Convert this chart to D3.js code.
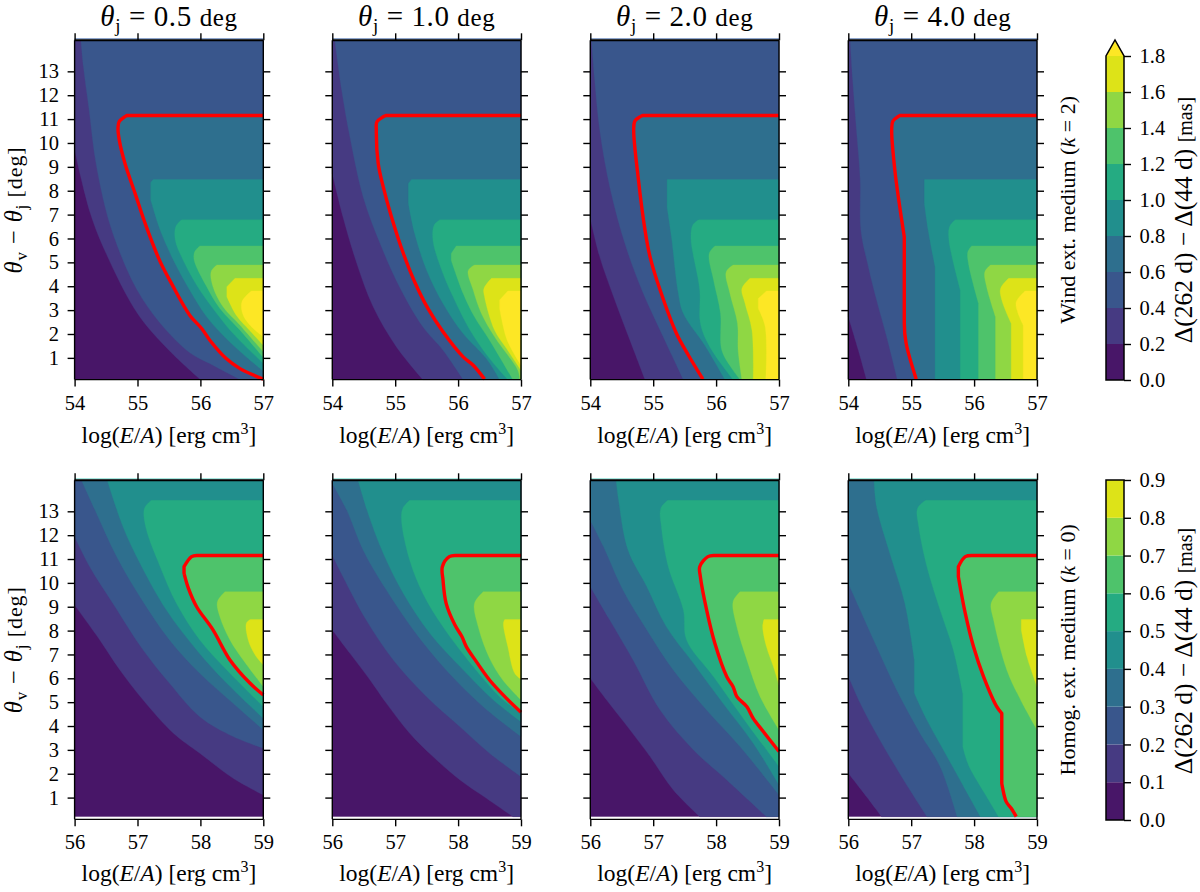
<!DOCTYPE html>
<meta charset="utf-8">
<style>
  body { margin: 0; background: #fff; }
  text { font-family: "Liberation Serif", serif; fill: #000; }
  .domain { display: none; }
  .tick line { stroke: #000; stroke-width: 1.4; }
  .tick text { font-size: 20.5px; }
</style>

<!-- Load d3.js -->
<script src="https://d3js.org/d3.v7.min.js"></script>

<div id="my_dataviz"></div>

<script>

// band limits of the two colour bars
var windLevels = [0, 0.2, 0.4, 0.6, 0.8, 1.0, 1.2, 1.4, 1.6, 1.8]
var homogLevels = [0, 0.1, 0.2, 0.3, 0.4, 0.5, 0.6, 0.7, 0.8, 0.9]
var bandColors = ["#481668", "#463a82", "#39568c", "#2e6f8e", "#218f8d", "#25ab82", "#4ec36b", "#8fd744", "#dde318"]
var overColor = "#fde725"

var thetaJ = ["0.5", "1.0", "2.0", "4.0"]
var windTicks = [54, 55, 56, 57]
var homogTicks = [56, 57, 58, 59]
var thetaTicks = [1, 2, 3, 4, 5, 6, 7, 8, 9, 10, 11, 12, 13]

// contour lines, [log(E/A), theta], one list per level (0.2, 0.4 ... 1.8)
var wind05 = [
  [[54,9.71],[54.25,7.06],[54.5,5.38],[55,2.86],[55.5,1.32],[56,0.09]],
  [[54.1,14.3],[54.14,13.2],[54.23,11.4],[54.35,9],[54.61,6.2],[55.09,3.42],[55.78,1.32],[56.2,0.69],[56.63,0.09]],
  [[57,11.15],[54.83,11.15],[54.71,10.9],[54.69,10.62],[54.71,10.13],[54.8,9.15],[54.96,7.9],[55.14,6.5],[55.36,5.03],[55.54,4.12],[55.83,2.79],[56.02,2.23],[56.15,1.74],[56.41,0.97],[56.63,0.55],[57,0.11]],
  [[57,8.47],[55.25,8.47],[55.21,8.34],[55.21,7.62],[55.36,6.36],[55.57,5.1],[55.83,3.84],[56.1,2.72],[56.41,1.81],[56.73,1.04],[57,0.45]],
  [[57,6.78],[55.7,6.78],[55.61,6.5],[55.6,5.94],[55.75,4.96],[55.99,3.84],[56.26,2.86],[56.52,2.02],[57,0.76]],
  [[57,5.69],[55.99,5.69],[55.91,5.45],[55.9,5.1],[56.1,3.98],[56.31,3.07],[56.63,2.16],[57,1.01]],
  [[57,4.89],[56.26,4.89],[56.17,4.61],[56.2,3.98],[56.36,3.14],[56.63,2.37],[57,1.25]],
  [[57,4.33],[56.55,4.33],[56.42,3.98],[56.42,3.56],[56.57,2.79],[56.78,2.16],[57,1.53]],
  [[57,3.8],[56.81,3.8],[56.66,3.35],[56.68,2.79],[56.84,2.23],[57,1.88]]
]
var wind10 = [
  [[54,8.72],[54.17,6.9],[54.39,4.95],[54.65,3.14],[55.02,1.46],[55.44,0.09]],
  [[54.04,14.3],[54.15,12.2],[54.28,10.26],[54.49,7.75],[54.76,5.79],[55.07,3.97],[55.44,2.3],[55.76,1.32],[56.08,0.09]],
  [[57,11.15],[54.85,11.15],[54.71,10.89],[54.7,10.54],[54.73,9.14],[54.81,8.16],[54.94,6.91],[55.13,5.37],[55.31,4.18],[55.52,3.07],[55.76,2.09],[56.08,1.04],[56.24,0.69],[56.42,0.11]],
  [[57,8.47],[55.26,8.47],[55.21,8.3],[55.21,7.47],[55.31,6.21],[55.5,4.67],[55.76,3.28],[56.08,2.02],[56.45,0.97],[56.66,0.09]],
  [[57,6.78],[55.71,6.78],[55.62,6.56],[55.6,5.93],[55.76,4.53],[55.97,3.28],[56.19,2.16],[56.5,0.97],[56.79,0.09]],
  [[57,5.69],[55.97,5.69],[55.89,5.37],[55.89,5.09],[56.08,3.7],[56.26,2.72],[56.5,1.74],[56.87,0.09]],
  [[57,4.89],[56.26,4.89],[56.16,4.65],[56.24,3.84],[56.37,2.86],[56.58,1.88],[56.95,0.48],[56.98,0.09]],
  [[57,4.33],[56.53,4.33],[56.41,3.9],[56.42,3.56],[56.58,2.16],[56.77,1.39],[57,0.48]],
  [[57,3.8],[56.79,3.8],[56.66,3.42],[56.66,3.07],[56.78,1.74],[57,0.69]]
]
var wind20 = [
  [[54,6.84],[54.15,5.23],[54.37,3.56],[54.63,1.74],[54.87,0.09]],
  [[54.02,14.3],[54.07,12.63],[54.15,10.54],[54.31,8.16],[54.55,5.79],[54.82,3.84],[55.11,2.16],[55.48,0.09]],
  [[57,11.15],[54.83,11.15],[54.71,10.93],[54.69,10.54],[54.76,8.58],[54.87,6.35],[54.95,5.23],[55.11,3.84],[55.37,2.02],[55.56,1.11],[55.79,0.11]],
  [[57,8.47],[55.22,8.47],[55.22,7.33],[55.29,6.07],[55.4,3.7],[55.48,2.86],[55.82,1.53],[56.14,0.09]],
  [[57,6.78],[55.72,6.78],[55.63,6.56],[55.6,6],[55.74,3.84],[55.75,2.44],[55.9,1.46],[56.27,0.09]],
  [[57,5.69],[55.98,5.69],[55.89,5.37],[55.96,4.25],[56.07,2.86],[56.09,1.32],[56.27,0.48],[56.38,0.09]],
  [[57,4.89],[56.27,4.89],[56.16,4.6],[56.22,3.7],[56.34,2.44],[56.35,1.32],[56.41,0.09]],
  [[57,4.33],[56.54,4.33],[56.41,3.9],[56.46,3.28],[56.57,2.16],[56.59,0.09]],
  [[57,3.8],[56.8,3.8],[56.67,3.49],[56.67,3.07],[56.78,2.3],[56.79,0.09]]
]
var wind40 = [
  [[54,2.72],[54.16,1.32],[54.29,0.09]],
  [[54.03,14.3],[54.07,12.63],[54.13,10.54],[54.19,8.44],[54.2,6.35],[54.32,4.81],[54.45,3.42],[54.61,1.88],[54.78,0.09]],
  [[57,11.15],[54.82,11.15],[54.71,10.92],[54.69,10.54],[54.74,8.86],[54.81,7.47],[54.89,6.07],[54.89,2.44],[54.92,1.6],[55.08,0.11]],
  [[57,8.47],[55.21,8.47],[55.21,7.47],[55.27,6.35],[55.38,4.81],[55.38,0.09]],
  [[57,6.78],[55.7,6.78],[55.61,6.49],[55.6,5.93],[55.78,3.84],[55.78,0.09]],
  [[57,5.69],[55.96,5.69],[55.9,5.44],[55.91,4.95],[56.07,3.28],[56.07,0.09]],
  [[57,4.89],[56.26,4.89],[56.17,4.6],[56.2,3.97],[56.34,2.72],[56.34,0.09]],
  [[57,4.33],[56.55,4.33],[56.42,3.9],[56.44,3.42],[56.59,2.44],[56.59,0.09]],
  [[57,3.8],[56.81,3.8],[56.67,3.35],[56.69,2.93],[56.78,2.37],[56.78,0.09]]
]

// same for the homogeneous medium, levels 0.1, 0.2 ... 0.8
var homog05 = [
  [[56,9.07],[56.4,7.61],[56.72,6.35],[57.09,5.09],[57.57,3.7],[57.99,2.86],[58.52,1.81],[59,1.11]],
  [[56,11.94],[56.24,10.68],[56.61,9.14],[57.09,7.19],[57.51,5.79],[57.99,4.39],[58.52,3.56],[59,3.07]],
  [[56.11,14.3],[56.35,12.91],[56.67,11.1],[57.04,9.42],[57.51,7.61],[57.99,6.21],[58.52,4.95],[59,3.84]],
  [[56.52,14.3],[56.77,12.35],[57.04,10.82],[57.46,8.86],[57.94,7.19],[58.42,5.79],[59,4.32]],
  [[59,13.46],[57.22,13.46],[57.11,13.12],[57.13,12.35],[57.36,10.68],[57.62,9.14],[57.99,7.61],[58.42,6.35],[59,4.81]],
  [[59,11.15],[57.94,11.15],[57.86,11.1],[57.74,10.68],[57.74,10.4],[57.81,9.77],[57.94,9],[58.2,8.03],[58.47,6.77],[58.79,5.79],[59,5.3]],
  [[59,9.63],[58.39,9.63],[58.27,9.21],[58.31,8.58],[58.47,7.61],[58.68,6.77],[59,5.65]],
  [[59,8.46],[58.79,8.46],[58.73,8.3],[58.76,7.61],[58.87,6.98],[59,6.56]]
]
var homog10 = [
  [[56,8.03],[56.28,7.05],[56.6,5.93],[56.86,4.95],[57.23,3.7],[57.6,2.72],[58.03,1.74],[58.45,0.97],[58.87,0.2]],
  [[56,11.17],[56.17,10.26],[56.54,8.44],[56.97,6.77],[57.5,5.23],[58.03,3.97],[58.5,2.86],[59,1.88]],
  [[56,14.17],[56.23,13.05],[56.49,11.38],[56.86,9.7],[57.29,8.03],[57.81,6.35],[58.4,4.81],[59,3.56]],
  [[56.41,14.3],[56.57,12.91],[56.81,11.24],[57.13,9.56],[57.55,7.89],[58.03,6.49],[58.56,5.09],[59,4.18]],
  [[59,13.46],[57.23,13.46],[57.12,13.12],[57.1,12.63],[57.23,10.96],[57.44,9.56],[57.76,8.16],[58.24,6.49],[58.66,5.23],[59,4.53]],
  [[59,11.15],[57.95,11.15],[57.86,11.1],[57.75,10.68],[57.76,10.12],[57.81,9.14],[57.95,8.23],[58.06,7.75],[58.13,7.33],[58.29,6.7],[58.5,5.93],[58.77,5.16],[59,4.58]],
  [[59,9.63],[58.4,9.63],[58.26,9.14],[58.32,8.16],[58.5,6.84],[58.71,5.93],[59,5.09]],
  [[59,8.46],[58.74,8.46],[58.72,8.3],[58.79,7.33],[58.9,6.21],[59,5.96]]
]
var homog20 = [
  [[56,6],[56.26,5.09],[56.63,3.84],[56.95,2.72],[57.32,1.32],[57.74,0.2]],
  [[56,9.84],[56.31,8.44],[56.68,6.77],[57.11,4.67],[57.64,3],[58.17,1.74],[58.8,0.2]],
  [[56,12.63],[56.21,11.52],[56.52,9.7],[56.9,8.03],[57.32,6.35],[57.85,4.67],[58.38,3.14],[59,1.11]],
  [[56.41,14.3],[56.45,13.47],[56.6,11.38],[56.9,9.84],[57.21,8.16],[57.64,6.63],[58.11,4.95],[58.59,3.28],[59,1.53]],
  [[59,13.46],[57.23,13.46],[57.12,13.12],[57.13,12.35],[57.24,10.68],[57.48,8.86],[57.53,7.61],[57.96,6.07],[58.49,4.11],[59,2.3]],
  [[59,11.15],[57.96,11.15],[57.87,11.1],[57.74,10.68],[57.75,10.26],[57.85,8.86],[57.98,7.47],[58.17,6.07],[58.27,5.65],[58.33,5.23],[58.49,4.81],[58.59,4.32],[58.75,3.77],[59,2.93]],
  [[59,9.63],[58.38,9.63],[58.27,9.21],[58.33,8.16],[58.49,6.77],[58.7,5.23],[59,3.84]],
  [[59,8.46],[58.76,8.46],[58.74,8.16],[58.8,7.33],[58.91,6.49],[59,5.72]]
]
var homog40 = [
  [[56,2.02],[56.29,1.04],[56.53,0.2]],
  [[56,6.1],[56.19,4.95],[56.5,3.42],[56.88,1.74],[57.25,0.2]],
  [[56,9.98],[56.19,8.86],[56.45,7.33],[56.77,5.51],[57.14,3.7],[57.46,2.3],[57.73,0.2]],
  [[56.41,14.3],[56.45,13.19],[56.66,11.24],[56.9,9.14],[57.05,6.77],[57.05,5.37],[57.25,4.25],[57.57,2.72],[58.1,0.2]],
  [[59,13.46],[57.23,13.46],[57.1,13.12],[57.12,12.35],[57.25,10.68],[57.46,8.86],[57.67,7.19],[57.82,5.37],[57.82,3.14],[57.91,2.37],[58.2,1.04],[58.39,0.2]],
  [[59,11.15],[57.98,11.15],[57.86,11.1],[57.75,10.68],[57.75,10.26],[57.86,8.72],[57.99,7.33],[58.15,6.07],[58.36,4.81],[58.44,4.53],[58.44,1.6],[58.51,0.83],[58.59,0.55],[58.67,0.2]],
  [[59,9.63],[58.39,9.63],[58.27,9.14],[58.31,8.44],[58.52,6.35],[58.74,5.09],[59,3.84]],
  [[59,8.46],[58.75,8.46],[58.75,8.03],[58.84,6.91],[59,5.65]]
]

// the two rows of the figure
var rows = [
  {name: "wind", ticks: windTicks, panels: [wind05, wind10, wind20, wind40], top: 40.3, bottom: 379.6,
   thetaMin: 0.09, redIndex: 2, strip: "#5f80b8", levels: windLevels, barBottom: 380, barTop: 56,
   labelY: 443, side: ["Wind ext. medium (", "k", " = 2)"]},
  {name: "homog", ticks: homogTicks, panels: [homog05, homog10, homog20, homog40], top: 480.3, bottom: 819.3,
   thetaMin: 0.2, redIndex: 5, strip: "#7fdcd0", levels: homogLevels, barBottom: 820, barTop: 480,
   labelY: 881, side: ["Homog. ext. medium (", "k", " = 0)"]}
]
var panelLeft = [74.6, 332.3, 590.3, 848.3]
var panelWidth = 188.7
var thetaMax = 14.3
var fillColors = bandColors.concat([overColor])

var svg = d3.select("#my_dataviz")
  .append("svg")
    .attr("width", 1200)
    .attr("height", 892)
    .style("display", "block")

// a math label, parts are [text, italic, baseline shift, size]
function addParts(text, parts) {
  parts.forEach(function (p) {
    text.append("tspan")
      .text(p[0])
      .style("font-style", p[1] ? "italic" : "normal")
      .attr("dy", p[2] || null)
      .style("font-size", p[3] ? p[3] + "px" : null)
  })
}

rows.forEach(function (row, r) {

  row.panels.forEach(function (lines, c) {

    var x = d3.scaleLinear()
      .domain([row.ticks[0], row.ticks[3]])
      .range([0, panelWidth])
    var y = d3.scaleLinear()
      .domain([0.09, thetaMax])
      .range([row.bottom, row.top])

    var g = svg.append("g").attr("transform", "translate(" + panelLeft[c] + ",0)")

    // lowest band first, then every higher band on top of it
    g.append("rect")
      .attr("x", 0).attr("width", panelWidth)
      .attr("y", y(thetaMax)).attr("height", y(row.thetaMin) - y(thetaMax))
      .attr("fill", bandColors[0])

    var xMax = row.ticks[3]
    var smooth = d3.line()
      .x(function (d) { return x(d[0]) })
      .y(function (d) { return y(d[1]) })
      .curve(d3.curveCatmullRom.alpha(0.5))

    // contour path: flat and upright pieces stay straight, the rest is smoothed
    function contour(pts) {
      var path = "M" + x(pts[0][0]) + "," + y(pts[0][1])
      var run = [pts[0]]
      function flush() {
        if (run.length > 1) path += smooth(run).replace(/^M[^CL]*/, "")
      }
      for (var i = 1; i < pts.length; i++) {
        if (pts[i][0] == pts[i - 1][0] || pts[i][1] == pts[i - 1][1]) {
          flush()
          path += "L" + x(pts[i][0]) + "," + y(pts[i][1])
          run = [pts[i]]
        } else {
          run.push(pts[i])
        }
      }
      flush()
      return path
    }

    lines.forEach(function (pts, i) {
      var first = pts[0], last = pts[pts.length - 1]
      // close along the right edge, and over the top when the line starts elsewhere
      var path = contour(pts) + "L" + x(xMax) + "," + y(last[1])
      if (first[0] != xMax) {
        path += "L" + x(xMax) + "," + y(thetaMax) + "L" + x(first[0]) + "," + y(thetaMax)
      }
      g.append("path")
        .attr("d", path + "Z")
        .attr("fill", fillColors[i + 1])
        .attr("stroke", fillColors[i + 1])
        .attr("stroke-width", 0.3)
    })

    // thin row of data above the top spine
    g.append("rect")
      .attr("x", 0).attr("width", panelWidth)
      .attr("y", row.top - 2).attr("height", 1)
      .attr("fill", row.strip)

    // red contour
    g.append("path")
      .attr("d", contour(lines[row.redIndex]))
      .attr("fill", "none")
      .attr("stroke", "#ff0000")
      .attr("stroke-width", 3.4)
      .attr("stroke-linejoin", "round")

    // axes
    g.append("g")
      .attr("transform", "translate(0," + row.bottom + ")")
      .call(d3.axisBottom(x).tickValues(row.ticks).tickFormat(d3.format("d")).tickSize(7).tickPadding(8.5))
    g.append("g")
      .attr("transform", "translate(0," + row.top + ")")
      .call(d3.axisTop(x).tickValues(row.ticks).tickFormat("").tickSize(7))
    g.append("g")
      .call(d3.axisLeft(y).tickValues(thetaTicks).tickFormat(c == 0 ? d3.format("d") : "").tickSize(7).tickPadding(8.5))
    g.append("g")
      .attr("transform", "translate(" + panelWidth + ",0)")
      .call(d3.axisRight(y).tickValues(thetaTicks).tickFormat("").tickSize(7))
    g.selectAll(".tick text").attr("fill", "#000")

    // frame, the top edge is heavier
    g.append("line").attr("x1", 0).attr("x2", panelWidth).attr("y1", row.top).attr("y2", row.top)
      .attr("stroke", "#000").attr("stroke-width", 2)
    g.append("line").attr("x1", 0).attr("x2", panelWidth).attr("y1", row.bottom).attr("y2", row.bottom)
      .attr("stroke", "#000").attr("stroke-width", 1.3)
    g.append("line").attr("x1", 0).attr("x2", 0).attr("y1", row.top).attr("y2", row.bottom)
      .attr("stroke", "#000").attr("stroke-width", 1.4)
    g.append("line").attr("x1", panelWidth).attr("x2", panelWidth).attr("y1", row.top).attr("y2", row.bottom)
      .attr("stroke", "#000").attr("stroke-width", 1.4)

    // x label
    var xl = g.append("text")
      .attr("x", panelWidth / 2)
      .attr("y", row.labelY)
      .attr("text-anchor", "middle")
      .style("font-size", "23.5px")
    addParts(xl, [["log("], ["E", true], ["/"], ["A", true], [") [erg cm"], ["3", false, "-9", 16], ["]", false, "9"]])

    // panel title, first row only
    if (r == 0) {
      var title = g.append("text")
        .attr("x", panelWidth / 2)
        .attr("y", 26)
        .attr("text-anchor", "middle")
        .style("font-size", "29px")
        .style("letter-spacing", "0.6px")
      addParts(title, [["θ", true], ["j", false, "6", 19], [" = " + thetaJ[c] + " ", false, "-6"], ["deg", false, null, 25]])
    }

    // y label, first column only
    if (c == 0) {
      var yl = g.append("text")
        .attr("transform", "translate(-52.6," + ((row.top + row.bottom) / 2 + 0) + ") rotate(-90)")
        .attr("text-anchor", "middle")
        .style("font-size", "24.5px")
        .style("letter-spacing", "0.9px")
      addParts(yl, [["θ", true], ["v", false, "5", 17], [" − ", false, "-5"], ["θ", true], ["j", false, "5", 17], [" [deg]", false, "-5", 22]])
    }
  })

  // row label on the right
  var side = svg.append("text")
    .attr("transform", "translate(1075," + ((row.top + row.bottom) / 2) + ") rotate(-90)")
    .attr("text-anchor", "middle")
    .style("font-size", "22px")
  addParts(side, [[row.side[0]], [row.side[1], true], [row.side[2]]])

  // colour bar
  var barX = 1106, barW = 18
  var barScale = d3.scaleLinear()
    .domain([row.levels[0], row.levels[9]])
    .range([row.barBottom, row.barTop])
  var bar = svg.append("g")
  bandColors.forEach(function (col, i) {
    bar.append("rect")
      .attr("x", barX).attr("width", barW)
      .attr("y", barScale(row.levels[i + 1]))
      .attr("height", barScale(row.levels[i]) - barScale(row.levels[i + 1]))
      .attr("fill", col)
  })
  var outline = "M" + barX + "," + row.barBottom + "L" + barX + "," + row.barTop
  if (row.name == "wind") {
    // extend arrow for values above the last level
    bar.append("path")
      .attr("d", "M" + barX + "," + row.barTop + "L" + (barX + barW / 2) + ",40L" + (barX + barW) + "," + row.barTop + "Z")
      .attr("fill", overColor)
    outline += "L" + (barX + barW / 2) + ",40L" + (barX + barW) + "," + row.barTop
  } else {
    outline += "L" + (barX + barW) + "," + row.barTop
  }
  outline += "L" + (barX + barW) + "," + row.barBottom + "Z"
  bar.append("path")
    .attr("d", outline)
    .attr("fill", "none")
    .attr("stroke", "#000")
    .attr("stroke-width", 1.5)
  svg.append("g")
    .attr("transform", "translate(" + (barX + barW) + ",0)")
    .call(d3.axisRight(barScale).tickValues(row.levels).tickFormat(d3.format(".1f")).tickSize(7).tickPadding(8.5))
    .selectAll("text").attr("fill", "#000")

  var barLabel = svg.append("text")
    .attr("transform", "translate(1192," + ((row.barBottom + row.barTop) / 2 + (r == 0 ? 2 : 1)) + ") rotate(-90)")
    .attr("text-anchor", "middle")
    .style("font-size", "25.5px")
  addParts(barLabel, [["Δ(262 d) − Δ(44 d) "], ["[mas]", false, null, 20]])
})

</script>
